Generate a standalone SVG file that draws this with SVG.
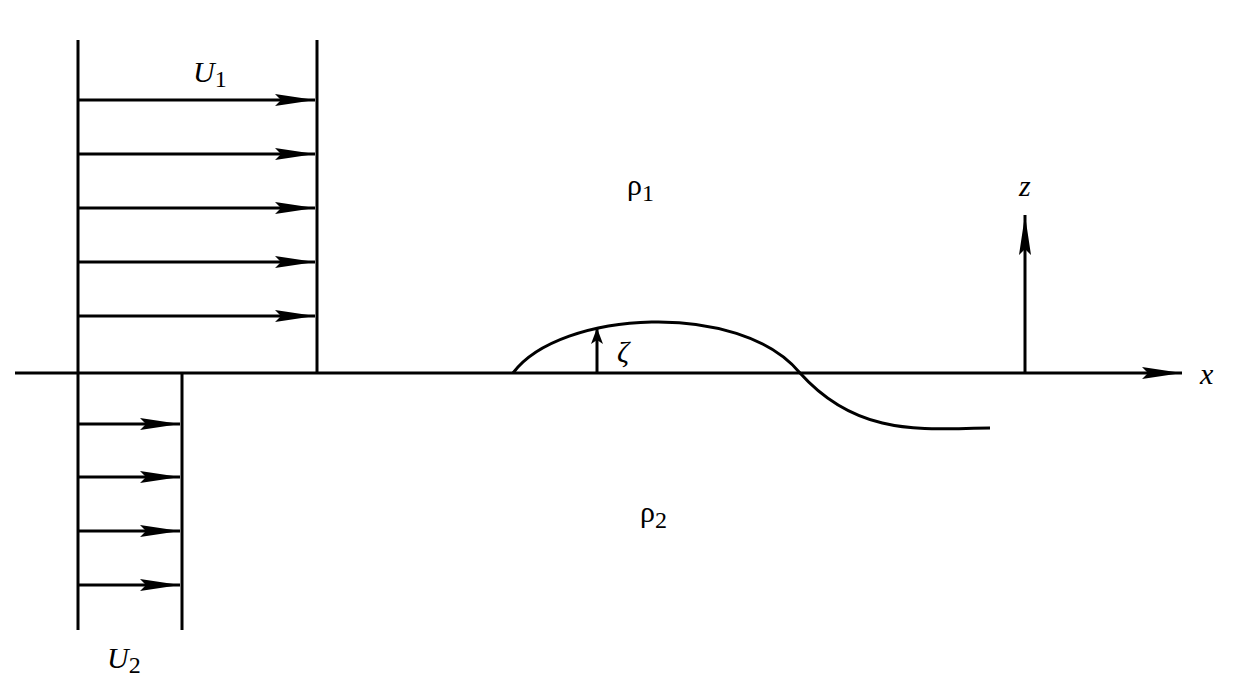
<svg xmlns="http://www.w3.org/2000/svg" width="1244" height="694" viewBox="0 0 1244 694">
<style>
.l{stroke:#000;stroke-width:3;fill:none}
.t{font-family:"Liberation Serif",serif;font-size:30px;fill:#000}
.i{font-style:italic}
</style>
<defs>
<marker id="a" markerUnits="userSpaceOnUse" markerWidth="44" markerHeight="16" refX="40" refY="8" orient="auto"><path d="M0,2 L40,8 L0,14 L6,8 Z" fill="#000"/></marker>
<marker id="s" markerUnits="userSpaceOnUse" markerWidth="20" markerHeight="14" refX="16" refY="7" orient="auto"><path d="M0,1 L16,7 L0,13 L4,7 Z" fill="#000"/></marker>
</defs>
<rect width="1244" height="694" fill="#fff"/>
<g id="profiles">
<line class="l" x1="78" y1="40" x2="78" y2="630"/>
<line class="l" x1="317" y1="40" x2="317" y2="373"/>
<line class="l" x1="182" y1="373" x2="182" y2="630"/>
</g>
<g id="connectors">
<line class="l" x1="15" y1="373" x2="1182" y2="373" marker-end="url(#a)"/>
<line class="l" x1="78" y1="100" x2="315" y2="100" marker-end="url(#a)"/>
<line class="l" x1="78" y1="154" x2="315" y2="154" marker-end="url(#a)"/>
<line class="l" x1="78" y1="208" x2="315" y2="208" marker-end="url(#a)"/>
<line class="l" x1="78" y1="262" x2="315" y2="262" marker-end="url(#a)"/>
<line class="l" x1="78" y1="316" x2="315" y2="316" marker-end="url(#a)"/>
<line class="l" x1="78" y1="424" x2="180" y2="424" marker-end="url(#a)"/>
<line class="l" x1="78" y1="477" x2="180" y2="477" marker-end="url(#a)"/>
<line class="l" x1="78" y1="531" x2="180" y2="531" marker-end="url(#a)"/>
<line class="l" x1="78" y1="585" x2="180" y2="585" marker-end="url(#a)"/>
<line class="l" x1="1025" y1="373" x2="1025" y2="215" marker-end="url(#a)"/>
<line class="l" x1="597" y1="373" x2="597" y2="328" stroke-width="2.5" marker-end="url(#s)"/>
</g>
<g id="wave">
<path class="l" stroke-width="2" d="M513,373 C560,310 740,300 800,373 C860,440 930,428 990,428"/>
</g>
<g id="labels">
<text class="t i" x="193" y="82">U<tspan font-style="normal" font-size="24" dy="5">1</tspan></text>
<text class="t i" x="107" y="668">U<tspan font-style="normal" font-size="24" dy="5">2</tspan></text>
<text class="t" x="627" y="195">ρ<tspan font-size="24" dy="6">1</tspan></text>
<text class="t" x="640" y="522">ρ<tspan font-size="24" dy="6">2</tspan></text>
<text class="t i" x="1019" y="196">z</text>
<text class="t i" x="1200" y="384">x</text>
<text class="t i" x="617" y="362">ζ</text>
</g>
</svg>
